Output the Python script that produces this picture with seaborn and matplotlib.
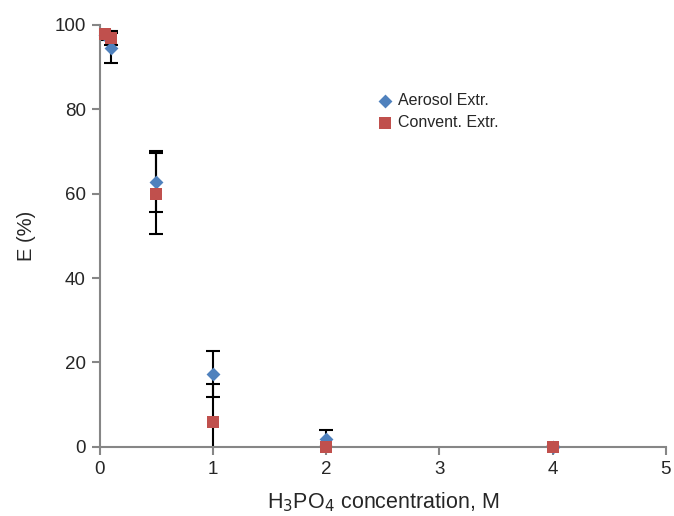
import numpy as np
import pandas as pd
import seaborn as sns
import matplotlib.pyplot as plt

# data
aer_x = [0.05, 0.1, 0.5, 1.0, 2.0, 4.0]
aer_y = [97.5, 94.5, 62.8, 17.3, 1.8, 0.0]
aer_err = [1.0, 3.6, 7.2, 5.5, 2.2, 0.0]

conv_x = [0.05, 0.1, 0.5, 1.0, 2.0, 4.0]
conv_y = [97.8, 96.9, 60.0, 6.0, 0.0, 0.0]
conv_err = [0.6, 1.6, 9.6, 9.0, 0.0, 0.0]

labels = ["Aerosol Extr.", "Convent. Extr."]
colors = ["#4F81BD", "#C0504D"]
markers = ["D", "s"]
sizes = [50, 75]

df = pd.concat([
    pd.DataFrame({"x": aer_x, "y": aer_y, "err": aer_err, "method": labels[0]}),
    pd.DataFrame({"x": conv_x, "y": conv_y, "err": conv_err, "method": labels[1]}),
], ignore_index=True)

sns.set_style("white")
plt.rcParams['font.family'] = ['Liberation Sans', 'DejaVu Sans']

fig = plt.figure(figsize=(6.74, 5.16), dpi=100)
ax = fig.add_axes([0.148, 0.134, 0.84, 0.818])

# error bars first, so markers sit on top
for m in labels:
    sub = df[df['method'] == m]
    ax.errorbar(sub['x'], sub['y'], yerr=sub['err'], fmt='none',
                ecolor='black', elinewidth=1.5, capsize=5, capthick=1.5, zorder=2)

for m, c, mk, s in zip(labels, colors, markers, sizes):
    sub = df[df['method'] == m]
    sns.scatterplot(data=sub, x='x', y='y', color=c, marker=mk, s=s,
                    linewidth=0, ax=ax, zorder=3, label=m)

ax.set_xlim(0, 5)
ax.set_ylim(0, 100)
ax.set_xticks([0, 1, 2, 3, 4, 5])
ax.set_yticks([0, 20, 40, 60, 80, 100])
ax.set_xlabel('H$_3$PO$_4$ concentration, M', fontsize=15.5, labelpad=9)
ax.set_ylabel('E (%)', fontsize=14.5, labelpad=13)
ax.tick_params(axis='both', labelsize=13.5, length=6, width=1.5, color='#868686',
               direction='out', bottom=True, left=True, pad=4)

for side in ['top', 'right']:
    ax.spines[side].set_visible(False)
for side in ['left', 'bottom']:
    ax.spines[side].set_color('#868686')
    ax.spines[side].set_linewidth(1.5)
# markers may sit on the axis lines
for c in ax.collections:
    if c.get_offsets().shape[0] > 0 and not hasattr(c, 'get_segments'):
        c.set_clip_on(False)

ax.legend(title=None, frameon=False, fontsize=11.5, loc='upper left',
          bbox_to_anchor=(0.478, 0.854), handlelength=1, handletextpad=0.3,
          labelspacing=0.45, borderaxespad=0)

plt.savefig('out.png', dpi=100)
